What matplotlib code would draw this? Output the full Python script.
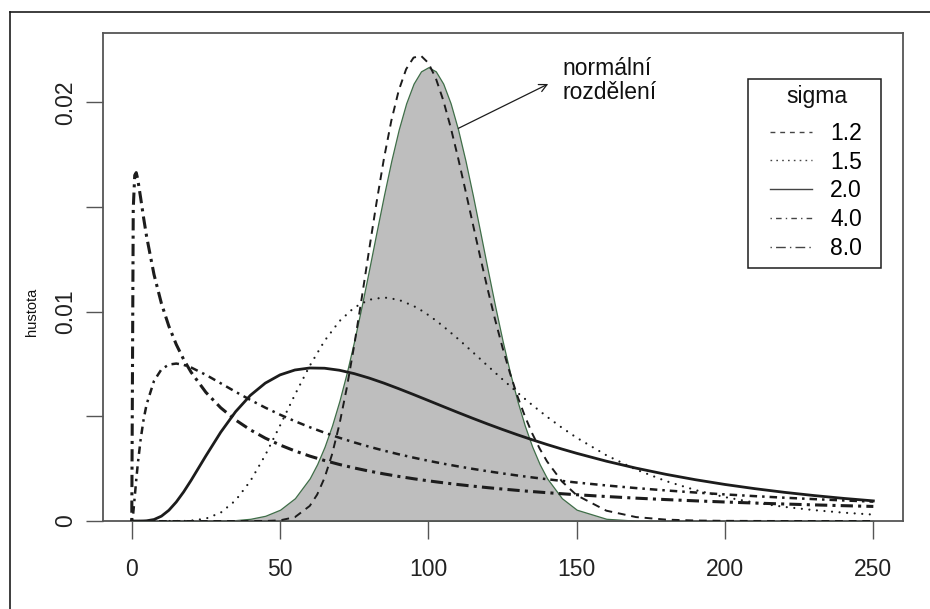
import matplotlib
matplotlib.use("Agg")
import matplotlib.pyplot as plt
from matplotlib.lines import Line2D
from matplotlib.patches import Rectangle

plt.rcParams["font.family"] = ["Liberation Sans", "DejaVu Sans"]

# x grid for the wide curves
x_wide = [0, 0.5, 1, 1.5, 2, 3, 4, 5, 7.5, 10, 12.5, 15, 17.5, 20,
          25, 30, 35, 40, 45, 50, 55, 60, 65, 70, 75, 80, 85, 90, 95,
          97.5, 100, 102.5,
          105, 110, 115, 120, 125, 130, 135, 140, 145, 150,
          160, 170, 180, 190, 200, 210, 220, 230, 240, 250]

# finer x grid for the two narrow peaks
x_peak = [0, 10, 20, 25, 30, 35, 40, 45, 50, 55,
          60, 62.5, 65, 67.5, 70, 72.5, 75, 77.5, 80, 82.5, 85, 87.5,
          90, 92.5, 95, 97.5, 100, 102.5, 105, 107.5, 110, 112.5, 115,
          117.5, 120, 122.5, 125, 127.5, 130, 132.5, 135, 137.5, 140,
          145, 150, 160, 170, 180, 190, 200, 210, 220, 230, 240, 250]

normal = [0, 0, 0, 0.000005, 0.000016, 0.000042, 0.000106, 0.000249, 0.00054, 0.001089,
          0.002041, 0.002717, 0.003552, 0.004557, 0.005739, 0.007097, 0.008615,
          0.010266, 0.01201, 0.013794, 0.015552, 0.017214, 0.018705, 0.019954,
          0.020896, 0.021483, 0.021682, 0.021483, 0.020896, 0.019954, 0.018705,
          0.017214, 0.015552, 0.013794, 0.01201, 0.010266, 0.008615, 0.007097,
          0.005739, 0.004557, 0.003552, 0.002717, 0.002041,
          0.001089, 0.00054, 0.000106, 0.000016, 0.000002, 0, 0, 0, 0, 0, 0, 0]

s12 = [0, 0, 0, 0, 0, 0, 0, 0, 0.000032, 0.000184,
       0.00072, 0.001262, 0.002064, 0.003174, 0.004614, 0.00637, 0.008401,
       0.010626, 0.012938, 0.015201, 0.017304, 0.019124, 0.020571, 0.021589,
       0.02214, 0.022228, 0.021881, 0.021153, 0.020106, 0.018815, 0.017353,
       0.015787, 0.014182, 0.012594, 0.011062, 0.009614, 0.00828, 0.007063,
       0.005976, 0.005018, 0.004182, 0.003462, 0.002846,
       0.001891, 0.00123, 0.000493, 0.000187, 0.000067, 0.000023, 0.000008,
       0.000003, 0.000001, 0, 0, 0]

s15 = [0, 0, 0, 0, 0, 0, 0, 0, 0, 0, 0, 0, 0, 0.000019,
       0.000114, 0.000399, 0.000985, 0.001914, 0.003145, 0.004564, 0.006033,
       0.007416, 0.008608, 0.009547, 0.010199, 0.010571, 0.010682, 0.010569, 0.010274,
       0.010071, 0.009839, 0.009581,
       0.009303, 0.008701, 0.008062, 0.007411, 0.006766, 0.006139, 0.005542,
       0.00498, 0.004459, 0.003978,
       0.003141, 0.002459, 0.001911, 0.001479, 0.001141, 0.000879, 0.000675,
       0.000519, 0.000398, 0.000306]

s20 = [0, 0, 0, 0, 0, 0, 0.000003, 0.00001, 0.000071, 0.000231, 0.000512,
       0.000907, 0.001393, 0.001943,
       0.003115, 0.004244, 0.005223, 0.006006, 0.006587, 0.006982, 0.007215,
       0.007311, 0.007299, 0.007203, 0.007041, 0.006831, 0.006588, 0.006321, 0.006042,
       0.005899, 0.005756, 0.005612,
       0.005468, 0.005183, 0.004904, 0.004633, 0.004372, 0.004121, 0.003882,
       0.003654, 0.003438, 0.003234,
       0.002858, 0.002526, 0.002232, 0.001973, 0.001745, 0.001546, 0.00137,
       0.001216, 0.00108, 0.000961]

s40 = [0, 0.000387, 0.001155, 0.00195, 0.002684, 0.003912, 0.004856, 0.005573,
       0.006695, 0.007244, 0.007474, 0.007522, 0.00746, 0.007335,
       0.006982, 0.006579, 0.006173, 0.005783, 0.005417, 0.005079, 0.004768,
       0.004482, 0.004219, 0.003977, 0.003755, 0.003551, 0.003362, 0.003188, 0.003027,
       0.002951, 0.002878, 0.002807,
       0.002739, 0.00261, 0.00249, 0.002377, 0.002273, 0.002174, 0.002082,
       0.001996, 0.001915, 0.001838,
       0.001698, 0.001573, 0.001461, 0.001361, 0.00127, 0.001188, 0.001113,
       0.001045, 0.000982, 0.000925]

s80 = [0, 0.01493, 0.016518, 0.016644, 0.016345, 0.01543, 0.014474, 0.013594,
       0.011774, 0.010391, 0.009309, 0.008435, 0.007715, 0.00711,
       0.006145, 0.005408, 0.004826, 0.004353, 0.00396, 0.00363, 0.003347,
       0.003102, 0.002889, 0.002701, 0.002534, 0.002384, 0.00225, 0.002129, 0.002019,
       0.001968, 0.001919, 0.001872,
       0.001827, 0.001742, 0.001665, 0.001593, 0.001526, 0.001464, 0.001406,
       0.001353, 0.001302, 0.001255,
       0.001169, 0.001092, 0.001024, 0.000963, 0.000907, 0.000857, 0.000812,
       0.00077, 0.000732, 0.000696]

sigma_labels = ["1.2", "1.5", "2.0", "4.0", "8.0"]

W, H = 930, 609
fig = plt.figure(figsize=(W / 100, H / 100), dpi=100)
ax = fig.add_axes([102.7 / W, 1 - 521 / H, 800 / W, (521 - 32.7) / H])

ink = "#1c1c1c"
ax.fill_between(x_peak, 0, normal, facecolor="#bebebe", edgecolor="#3f6e48",
                linewidth=0.9, zorder=1)

curves = [(x_peak, s12, dict(lw=1.4, dashes=(4, 3))),
          (x_wide, s15, dict(lw=1.6, dashes=(0.01, 3.4), dash_capstyle="round")),
          (x_wide, s20, dict(lw=2.0, linestyle="-")),
          (x_wide, s40, dict(lw=1.8, dashes=(1, 2, 3, 2))),
          (x_wide, s80, dict(lw=2.2, dashes=(1, 1.7, 4, 1.7)))]
for xs, ys, st in curves:
    ax.plot(xs, ys, color=ink, zorder=3, **st)

ax.set_xlim(-9.8, 259.9)
ax.set_ylim(0, 0.02333)
ax.set_xticks([0, 50, 100, 150, 200, 250])
ax.set_xticklabels(["0", "50", "100", "150", "200", "250"])
ax.set_yticks([0, 0.005, 0.01, 0.015, 0.02])
ax.set_yticklabels(["0", "", "0.01", "", "0.02"], rotation=90, va="center")

for s in ax.spines.values():
    s.set_color("#555555")
    s.set_linewidth(1.3)
ax.tick_params(axis="both", direction="out", length=12.6, width=1.0,
               color="#555555", labelsize=16.5, labelcolor="#222222")
ax.tick_params(axis="x", pad=14.4)
ax.tick_params(axis="y", pad=6)

fig.text(32 / W, 1 - 312 / H, "hustota", rotation=90, ha="center", va="center",
         fontsize=10.5, color="#111111")

# annotation with arrow
ax.annotate("", xy=(140.4, 0.02088), xytext=(110.1, 0.01876),
            arrowprops=dict(arrowstyle="->", lw=0.9, color=ink,
                            shrinkA=0, shrinkB=0, mutation_scale=14), zorder=4)
ax.text(145.3, 0.02105, "normální\nrozdělení", ha="left", va="center",
        fontsize=16.5, linespacing=1.1, color="#111111")

# legend
handles = [
    Line2D([], [], color="#444444", lw=1.0, dashes=(3.5, 3.5)),
    Line2D([], [], color="#444444", lw=1.0, dashes=(1.2, 3)),
    Line2D([], [], color="#444444", lw=1.0),
    Line2D([], [], color="#444444", lw=1.0, dashes=(1, 3, 4, 3)),
    Line2D([], [], color="#444444", lw=1.0, dashes=(1, 3, 7, 3)),
]
leg = ax.legend(handles, sigma_labels, loc="upper left",
                bbox_to_anchor=(765.4 / W, 1 - 117.2 / H),
                bbox_transform=fig.transFigure, frameon=False,
                fontsize=16.5, borderpad=0.2,
                borderaxespad=0, handlelength=1.83, handletextpad=0.79,
                labelspacing=0.25)
fig.text(816.7 / W, 1 - 97 / H, "sigma", ha="center", va="center",
         fontsize=16.5, color="#111111")
fig.add_artist(Rectangle((748 / W, 1 - 268 / H), 133 / W, 189 / H,
                         transform=fig.transFigure, fill=False,
                         edgecolor=ink, linewidth=1.1))

# outer frame (only top and left edges visible)
fx, fy = 9.5 / W, 1 - 11.5 / H
fig.add_artist(Line2D([fx, fx], [0, fy], transform=fig.transFigure,
                      color=ink, lw=1.2))
fig.add_artist(Line2D([fx, 1], [fy, fy], transform=fig.transFigure,
                      color=ink, lw=1.2))

fig.savefig("out.png", dpi=100)
